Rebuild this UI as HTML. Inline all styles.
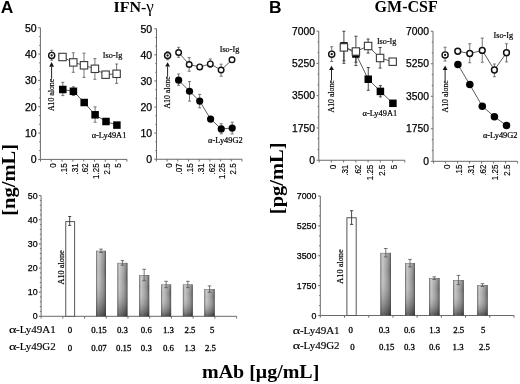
<!DOCTYPE html><html><head><meta charset="utf-8"><style>html,body{margin:0;padding:0;background:#fff;}svg{display:block;filter:blur(0.3px);}</style></head><body>
<svg width="520" height="384" viewBox="0 0 520 384">
<defs><linearGradient id="gh" x1="0" y1="0" x2="1" y2="0"><stop offset="0" stop-color="#7a7a7a"/><stop offset="0.1" stop-color="#a8a8a8"/><stop offset="0.2" stop-color="#c4c4c4"/><stop offset="0.35" stop-color="#b6b6b6"/><stop offset="0.55" stop-color="#a2a2a2"/><stop offset="0.75" stop-color="#8c8c8c"/><stop offset="0.9" stop-color="#6a6a6a"/><stop offset="1" stop-color="#4a4a4a"/></linearGradient><linearGradient id="gv" x1="0" y1="0" x2="0" y2="1"><stop offset="0" stop-color="#fff" stop-opacity="0.15"/><stop offset="0.3" stop-color="#fff" stop-opacity="0"/><stop offset="1" stop-color="#000" stop-opacity="0.5"/></linearGradient></defs>
<rect width="520" height="384" fill="#fff"/>
<text x="0.8" y="13.1" font-family='"Liberation Sans", sans-serif' font-size="17.4" text-anchor="start" font-weight="bold" fill="#000">A</text>
<text x="268.9" y="13" font-family='"Liberation Sans", sans-serif' font-size="17.4" text-anchor="start" font-weight="bold" fill="#000">B</text>
<text x="0" y="0" font-family='"Liberation Serif", serif' font-size="16" text-anchor="start" font-weight="bold" fill="#000" transform="translate(113.5,11.8) rotate(0) scale(1,0.94)">IFN-<tspan font-weight="normal" font-size="17">&#947;</tspan></text>
<text x="374.6" y="11.6" font-family='"Liberation Serif", serif' font-size="16" text-anchor="start" font-weight="bold" fill="#000">GM-CSF</text>
<line x1="40.4" y1="27.75" x2="40.4" y2="159.4" stroke="#6a6a6a" stroke-width="1"/>
<line x1="38.2" y1="27.75" x2="40.4" y2="27.75" stroke="#6a6a6a" stroke-width="1"/>
<line x1="39.2" y1="36.53" x2="40.4" y2="36.53" stroke="#6a6a6a" stroke-width="1"/>
<line x1="39.2" y1="45.3" x2="40.4" y2="45.3" stroke="#6a6a6a" stroke-width="1"/>
<line x1="38.2" y1="54.08" x2="40.4" y2="54.08" stroke="#6a6a6a" stroke-width="1"/>
<line x1="39.2" y1="62.86" x2="40.4" y2="62.86" stroke="#6a6a6a" stroke-width="1"/>
<line x1="39.2" y1="71.63" x2="40.4" y2="71.63" stroke="#6a6a6a" stroke-width="1"/>
<line x1="38.2" y1="80.41" x2="40.4" y2="80.41" stroke="#6a6a6a" stroke-width="1"/>
<line x1="39.2" y1="89.19" x2="40.4" y2="89.19" stroke="#6a6a6a" stroke-width="1"/>
<line x1="39.2" y1="97.96" x2="40.4" y2="97.96" stroke="#6a6a6a" stroke-width="1"/>
<line x1="38.2" y1="106.74" x2="40.4" y2="106.74" stroke="#6a6a6a" stroke-width="1"/>
<line x1="39.2" y1="115.52" x2="40.4" y2="115.52" stroke="#6a6a6a" stroke-width="1"/>
<line x1="39.2" y1="124.29" x2="40.4" y2="124.29" stroke="#6a6a6a" stroke-width="1"/>
<line x1="38.2" y1="133.07" x2="40.4" y2="133.07" stroke="#6a6a6a" stroke-width="1"/>
<line x1="39.2" y1="141.85" x2="40.4" y2="141.85" stroke="#6a6a6a" stroke-width="1"/>
<line x1="39.2" y1="150.62" x2="40.4" y2="150.62" stroke="#6a6a6a" stroke-width="1"/>
<line x1="38.2" y1="159.4" x2="40.4" y2="159.4" stroke="#6a6a6a" stroke-width="1"/>
<text x="36.6" y="31.51" font-family='"Liberation Sans", sans-serif' font-size="10.5" text-anchor="end" font-weight="normal" fill="#000" stroke="#000" stroke-width="0.25">50</text>
<text x="36.6" y="57.84" font-family='"Liberation Sans", sans-serif' font-size="10.5" text-anchor="end" font-weight="normal" fill="#000" stroke="#000" stroke-width="0.25">40</text>
<text x="36.6" y="84.17" font-family='"Liberation Sans", sans-serif' font-size="10.5" text-anchor="end" font-weight="normal" fill="#000" stroke="#000" stroke-width="0.25">30</text>
<text x="36.6" y="110.5" font-family='"Liberation Sans", sans-serif' font-size="10.5" text-anchor="end" font-weight="normal" fill="#000" stroke="#000" stroke-width="0.25">20</text>
<text x="36.6" y="136.83" font-family='"Liberation Sans", sans-serif' font-size="10.5" text-anchor="end" font-weight="normal" fill="#000" stroke="#000" stroke-width="0.25">10</text>
<text x="36.6" y="163.16" font-family='"Liberation Sans", sans-serif' font-size="10.5" text-anchor="end" font-weight="normal" fill="#000" stroke="#000" stroke-width="0.25">0</text>
<line x1="40.4" y1="159.4" x2="127" y2="159.4" stroke="#6a6a6a" stroke-width="1"/>
<line x1="40.5" y1="159.4" x2="40.5" y2="161.6" stroke="#6a6a6a" stroke-width="1"/>
<line x1="51.3" y1="159.4" x2="51.3" y2="161.6" stroke="#6a6a6a" stroke-width="1"/>
<line x1="62.1" y1="159.4" x2="62.1" y2="161.6" stroke="#6a6a6a" stroke-width="1"/>
<line x1="72.9" y1="159.4" x2="72.9" y2="161.6" stroke="#6a6a6a" stroke-width="1"/>
<line x1="83.7" y1="159.4" x2="83.7" y2="161.6" stroke="#6a6a6a" stroke-width="1"/>
<line x1="94.5" y1="159.4" x2="94.5" y2="161.6" stroke="#6a6a6a" stroke-width="1"/>
<line x1="105.3" y1="159.4" x2="105.3" y2="161.6" stroke="#6a6a6a" stroke-width="1"/>
<line x1="116.1" y1="159.4" x2="116.1" y2="161.6" stroke="#6a6a6a" stroke-width="1"/>
<line x1="126.9" y1="159.4" x2="126.9" y2="161.6" stroke="#6a6a6a" stroke-width="1"/>
<text x="0" y="0" font-family='"Liberation Sans", sans-serif' font-size="8.9" text-anchor="end" font-weight="normal" fill="#000" transform="translate(55.99,163.4) rotate(-90) scale(0.9,1)" stroke="#000" stroke-width="0.15">0</text>
<text x="0" y="0" font-family='"Liberation Sans", sans-serif' font-size="8.9" text-anchor="end" font-weight="normal" fill="#000" transform="translate(66.79,163.4) rotate(-90) scale(0.9,1)" stroke="#000" stroke-width="0.15">.15</text>
<text x="0" y="0" font-family='"Liberation Sans", sans-serif' font-size="8.9" text-anchor="end" font-weight="normal" fill="#000" transform="translate(77.59,163.4) rotate(-90) scale(0.9,1)" stroke="#000" stroke-width="0.15">.31</text>
<text x="0" y="0" font-family='"Liberation Sans", sans-serif' font-size="8.9" text-anchor="end" font-weight="normal" fill="#000" transform="translate(88.39,163.4) rotate(-90) scale(0.9,1)" stroke="#000" stroke-width="0.15">.62</text>
<text x="0" y="0" font-family='"Liberation Sans", sans-serif' font-size="8.9" text-anchor="end" font-weight="normal" fill="#000" transform="translate(99.19,163.4) rotate(-90) scale(0.9,1)" stroke="#000" stroke-width="0.15">1.25</text>
<text x="0" y="0" font-family='"Liberation Sans", sans-serif' font-size="8.9" text-anchor="end" font-weight="normal" fill="#000" transform="translate(109.99,163.4) rotate(-90) scale(0.9,1)" stroke="#000" stroke-width="0.15">2.5</text>
<text x="0" y="0" font-family='"Liberation Sans", sans-serif' font-size="8.9" text-anchor="end" font-weight="normal" fill="#000" transform="translate(120.79,163.4) rotate(-90) scale(0.9,1)" stroke="#000" stroke-width="0.15">5</text>
<polygon points="51.6,62.1 49.2,66.8 54,66.8" fill="#111"/>
<line x1="51.6" y1="66.8" x2="51.6" y2="78.8" stroke="#222" stroke-width="1"/>
<text x="0" y="0" font-family='"Liberation Serif", serif' font-size="7.8" text-anchor="end" font-weight="normal" fill="#000" transform="translate(54.17,78.8) rotate(-90)" stroke="#000" stroke-width="0.18">A10 alone</text>
<line x1="51.7" y1="50.3" x2="51.7" y2="60.2" stroke="#666" stroke-width="0.9"/>
<line x1="50.2" y1="50.3" x2="53.2" y2="50.3" stroke="#666" stroke-width="0.9"/>
<line x1="50.2" y1="60.2" x2="53.2" y2="60.2" stroke="#666" stroke-width="0.9"/>
<circle cx="51.7" cy="55.45" r="3.05" fill="#fff" stroke="#111" stroke-width="1.4"/>
<circle cx="51.7" cy="55.45" r="1.15" fill="#111"/>
<polyline points="62.8,89.5 73.4,91.3 84.2,102.5 95.1,114.8 106,121.5 116.9,125.1" fill="none" stroke="#333" stroke-width="0.8"/>
<polyline points="62.5,57 73.3,62.4 84,65.3 94.9,68.8 105.6,74.7 116.6,73.8" fill="none" stroke="#333" stroke-width="0.8"/>
<line x1="73.3" y1="52.8" x2="73.3" y2="72.3" stroke="#666" stroke-width="0.9"/>
<line x1="71.8" y1="52.8" x2="74.8" y2="52.8" stroke="#666" stroke-width="0.9"/>
<line x1="71.8" y1="72.3" x2="74.8" y2="72.3" stroke="#666" stroke-width="0.9"/>
<line x1="84" y1="53.2" x2="84" y2="77.4" stroke="#666" stroke-width="0.9"/>
<line x1="82.5" y1="53.2" x2="85.5" y2="53.2" stroke="#666" stroke-width="0.9"/>
<line x1="82.5" y1="77.4" x2="85.5" y2="77.4" stroke="#666" stroke-width="0.9"/>
<line x1="94.9" y1="58.6" x2="94.9" y2="79.3" stroke="#666" stroke-width="0.9"/>
<line x1="93.4" y1="58.6" x2="96.4" y2="58.6" stroke="#666" stroke-width="0.9"/>
<line x1="93.4" y1="79.3" x2="96.4" y2="79.3" stroke="#666" stroke-width="0.9"/>
<line x1="116.6" y1="64" x2="116.6" y2="83.3" stroke="#666" stroke-width="0.9"/>
<line x1="115.1" y1="64" x2="118.1" y2="64" stroke="#666" stroke-width="0.9"/>
<line x1="115.1" y1="83.3" x2="118.1" y2="83.3" stroke="#666" stroke-width="0.9"/>
<line x1="62.8" y1="82.3" x2="62.8" y2="95.6" stroke="#666" stroke-width="0.9"/>
<line x1="61.3" y1="82.3" x2="64.3" y2="82.3" stroke="#666" stroke-width="0.9"/>
<line x1="61.3" y1="95.6" x2="64.3" y2="95.6" stroke="#666" stroke-width="0.9"/>
<line x1="73.4" y1="86.8" x2="73.4" y2="95.5" stroke="#666" stroke-width="0.9"/>
<line x1="71.9" y1="86.8" x2="74.9" y2="86.8" stroke="#666" stroke-width="0.9"/>
<line x1="71.9" y1="95.5" x2="74.9" y2="95.5" stroke="#666" stroke-width="0.9"/>
<line x1="95.1" y1="106.9" x2="95.1" y2="122.2" stroke="#666" stroke-width="0.9"/>
<line x1="93.6" y1="106.9" x2="96.6" y2="106.9" stroke="#666" stroke-width="0.9"/>
<line x1="93.6" y1="122.2" x2="96.6" y2="122.2" stroke="#666" stroke-width="0.9"/>
<rect x="59.05" y="85.75" width="7.5" height="7.5" fill="#000"/>
<rect x="69.65" y="87.55" width="7.5" height="7.5" fill="#000"/>
<rect x="80.45" y="98.75" width="7.5" height="7.5" fill="#000"/>
<rect x="91.35" y="111.05" width="7.5" height="7.5" fill="#000"/>
<rect x="102.25" y="117.75" width="7.5" height="7.5" fill="#000"/>
<rect x="113.15" y="121.35" width="7.5" height="7.5" fill="#000"/>
<rect x="58.8" y="53.3" width="7.4" height="7.4" fill="#fff" stroke="#3a3a3a" stroke-width="1.1"/>
<rect x="69.6" y="58.7" width="7.4" height="7.4" fill="#fff" stroke="#3a3a3a" stroke-width="1.1"/>
<rect x="80.3" y="61.6" width="7.4" height="7.4" fill="#fff" stroke="#3a3a3a" stroke-width="1.1"/>
<rect x="91.2" y="65.1" width="7.4" height="7.4" fill="#fff" stroke="#3a3a3a" stroke-width="1.1"/>
<rect x="101.9" y="71" width="7.4" height="7.4" fill="#fff" stroke="#3a3a3a" stroke-width="1.1"/>
<rect x="112.9" y="70.1" width="7.4" height="7.4" fill="#fff" stroke="#3a3a3a" stroke-width="1.1"/>
<text x="102.8" y="58.4" font-family='"Liberation Serif", serif' font-size="8.2" text-anchor="start" font-weight="normal" fill="#000" stroke="#000" stroke-width="0.2">Iso-Ig</text>
<text x="91.7" y="137.6" font-family='"Liberation Serif", serif' font-size="8.4" text-anchor="start" font-weight="normal" fill="#000" stroke="#000" stroke-width="0.2">&#945;-Ly49A1</text>
<line x1="156.5" y1="28.75" x2="156.5" y2="159.25" stroke="#6a6a6a" stroke-width="1"/>
<line x1="154.3" y1="28.75" x2="156.5" y2="28.75" stroke="#6a6a6a" stroke-width="1"/>
<line x1="155.3" y1="37.45" x2="156.5" y2="37.45" stroke="#6a6a6a" stroke-width="1"/>
<line x1="155.3" y1="46.15" x2="156.5" y2="46.15" stroke="#6a6a6a" stroke-width="1"/>
<line x1="154.3" y1="54.85" x2="156.5" y2="54.85" stroke="#6a6a6a" stroke-width="1"/>
<line x1="155.3" y1="63.55" x2="156.5" y2="63.55" stroke="#6a6a6a" stroke-width="1"/>
<line x1="155.3" y1="72.25" x2="156.5" y2="72.25" stroke="#6a6a6a" stroke-width="1"/>
<line x1="154.3" y1="80.95" x2="156.5" y2="80.95" stroke="#6a6a6a" stroke-width="1"/>
<line x1="155.3" y1="89.65" x2="156.5" y2="89.65" stroke="#6a6a6a" stroke-width="1"/>
<line x1="155.3" y1="98.35" x2="156.5" y2="98.35" stroke="#6a6a6a" stroke-width="1"/>
<line x1="154.3" y1="107.05" x2="156.5" y2="107.05" stroke="#6a6a6a" stroke-width="1"/>
<line x1="155.3" y1="115.75" x2="156.5" y2="115.75" stroke="#6a6a6a" stroke-width="1"/>
<line x1="155.3" y1="124.45" x2="156.5" y2="124.45" stroke="#6a6a6a" stroke-width="1"/>
<line x1="154.3" y1="133.15" x2="156.5" y2="133.15" stroke="#6a6a6a" stroke-width="1"/>
<line x1="155.3" y1="141.85" x2="156.5" y2="141.85" stroke="#6a6a6a" stroke-width="1"/>
<line x1="155.3" y1="150.55" x2="156.5" y2="150.55" stroke="#6a6a6a" stroke-width="1"/>
<line x1="154.3" y1="159.25" x2="156.5" y2="159.25" stroke="#6a6a6a" stroke-width="1"/>
<text x="152.2" y="32.51" font-family='"Liberation Sans", sans-serif' font-size="10.5" text-anchor="end" font-weight="normal" fill="#000" stroke="#000" stroke-width="0.25">50</text>
<text x="152.2" y="58.61" font-family='"Liberation Sans", sans-serif' font-size="10.5" text-anchor="end" font-weight="normal" fill="#000" stroke="#000" stroke-width="0.25">40</text>
<text x="152.2" y="84.71" font-family='"Liberation Sans", sans-serif' font-size="10.5" text-anchor="end" font-weight="normal" fill="#000" stroke="#000" stroke-width="0.25">30</text>
<text x="152.2" y="110.81" font-family='"Liberation Sans", sans-serif' font-size="10.5" text-anchor="end" font-weight="normal" fill="#000" stroke="#000" stroke-width="0.25">20</text>
<text x="152.2" y="136.91" font-family='"Liberation Sans", sans-serif' font-size="10.5" text-anchor="end" font-weight="normal" fill="#000" stroke="#000" stroke-width="0.25">10</text>
<text x="152.2" y="163.01" font-family='"Liberation Sans", sans-serif' font-size="10.5" text-anchor="end" font-weight="normal" fill="#000" stroke="#000" stroke-width="0.25">0</text>
<line x1="156.5" y1="159.25" x2="242" y2="159.25" stroke="#6a6a6a" stroke-width="1"/>
<line x1="156.4" y1="159.25" x2="156.4" y2="161.45" stroke="#6a6a6a" stroke-width="1"/>
<line x1="167.1" y1="159.25" x2="167.1" y2="161.45" stroke="#6a6a6a" stroke-width="1"/>
<line x1="177.8" y1="159.25" x2="177.8" y2="161.45" stroke="#6a6a6a" stroke-width="1"/>
<line x1="188.5" y1="159.25" x2="188.5" y2="161.45" stroke="#6a6a6a" stroke-width="1"/>
<line x1="199.2" y1="159.25" x2="199.2" y2="161.45" stroke="#6a6a6a" stroke-width="1"/>
<line x1="209.9" y1="159.25" x2="209.9" y2="161.45" stroke="#6a6a6a" stroke-width="1"/>
<line x1="220.6" y1="159.25" x2="220.6" y2="161.45" stroke="#6a6a6a" stroke-width="1"/>
<line x1="231.3" y1="159.25" x2="231.3" y2="161.45" stroke="#6a6a6a" stroke-width="1"/>
<line x1="242" y1="159.25" x2="242" y2="161.45" stroke="#6a6a6a" stroke-width="1"/>
<text x="0" y="0" font-family='"Liberation Sans", sans-serif' font-size="8.9" text-anchor="end" font-weight="normal" fill="#000" transform="translate(171.79,163.4) rotate(-90) scale(0.9,1)" stroke="#000" stroke-width="0.15">0</text>
<text x="0" y="0" font-family='"Liberation Sans", sans-serif' font-size="8.9" text-anchor="end" font-weight="normal" fill="#000" transform="translate(182.49,163.4) rotate(-90) scale(0.9,1)" stroke="#000" stroke-width="0.15">.07</text>
<text x="0" y="0" font-family='"Liberation Sans", sans-serif' font-size="8.9" text-anchor="end" font-weight="normal" fill="#000" transform="translate(193.19,163.4) rotate(-90) scale(0.9,1)" stroke="#000" stroke-width="0.15">.15</text>
<text x="0" y="0" font-family='"Liberation Sans", sans-serif' font-size="8.9" text-anchor="end" font-weight="normal" fill="#000" transform="translate(203.89,163.4) rotate(-90) scale(0.9,1)" stroke="#000" stroke-width="0.15">.31</text>
<text x="0" y="0" font-family='"Liberation Sans", sans-serif' font-size="8.9" text-anchor="end" font-weight="normal" fill="#000" transform="translate(214.59,163.4) rotate(-90) scale(0.9,1)" stroke="#000" stroke-width="0.15">.62</text>
<text x="0" y="0" font-family='"Liberation Sans", sans-serif' font-size="8.9" text-anchor="end" font-weight="normal" fill="#000" transform="translate(225.29,163.4) rotate(-90) scale(0.9,1)" stroke="#000" stroke-width="0.15">1.25</text>
<text x="0" y="0" font-family='"Liberation Sans", sans-serif' font-size="8.9" text-anchor="end" font-weight="normal" fill="#000" transform="translate(235.99,163.4) rotate(-90) scale(0.9,1)" stroke="#000" stroke-width="0.15">2.5</text>
<polygon points="167.6,62.2 165.2,66.5 170,66.5" fill="#111"/>
<line x1="167.6" y1="66.5" x2="167.6" y2="76.25" stroke="#222" stroke-width="1"/>
<text x="0" y="0" font-family='"Liberation Serif", serif' font-size="7.8" text-anchor="end" font-weight="normal" fill="#000" transform="translate(170.17,76.25) rotate(-90)" stroke="#000" stroke-width="0.18">A10 alone</text>
<line x1="167.6" y1="51.7" x2="167.6" y2="59.8" stroke="#666" stroke-width="0.9"/>
<line x1="166.1" y1="51.7" x2="169.1" y2="51.7" stroke="#666" stroke-width="0.9"/>
<line x1="166.1" y1="59.8" x2="169.1" y2="59.8" stroke="#666" stroke-width="0.9"/>
<circle cx="167.6" cy="55.5" r="3.05" fill="#fff" stroke="#111" stroke-width="1.4"/>
<circle cx="167.6" cy="55.5" r="1.15" fill="#111"/>
<polyline points="178.6,80.2 189.5,91.25 199.7,101.1 210.6,119.1 221.25,128.9 232.2,128.1" fill="none" stroke="#333" stroke-width="0.8"/>
<polyline points="178.6,52.5 189.2,64.5 199.7,66.9 210.3,63.9 221.1,70 232,59.8" fill="none" stroke="#333" stroke-width="0.8"/>
<line x1="178.6" y1="47.3" x2="178.6" y2="57.3" stroke="#666" stroke-width="0.9"/>
<line x1="177.1" y1="47.3" x2="180.1" y2="47.3" stroke="#666" stroke-width="0.9"/>
<line x1="177.1" y1="57.3" x2="180.1" y2="57.3" stroke="#666" stroke-width="0.9"/>
<line x1="189.2" y1="57.6" x2="189.2" y2="71.25" stroke="#666" stroke-width="0.9"/>
<line x1="187.7" y1="57.6" x2="190.7" y2="57.6" stroke="#666" stroke-width="0.9"/>
<line x1="187.7" y1="71.25" x2="190.7" y2="71.25" stroke="#666" stroke-width="0.9"/>
<line x1="210.3" y1="59" x2="210.3" y2="67.3" stroke="#666" stroke-width="0.9"/>
<line x1="208.8" y1="59" x2="211.8" y2="59" stroke="#666" stroke-width="0.9"/>
<line x1="208.8" y1="67.3" x2="211.8" y2="67.3" stroke="#666" stroke-width="0.9"/>
<line x1="221.1" y1="64.2" x2="221.1" y2="76.25" stroke="#666" stroke-width="0.9"/>
<line x1="219.6" y1="64.2" x2="222.6" y2="64.2" stroke="#666" stroke-width="0.9"/>
<line x1="219.6" y1="76.25" x2="222.6" y2="76.25" stroke="#666" stroke-width="0.9"/>
<line x1="178.6" y1="74" x2="178.6" y2="85.3" stroke="#666" stroke-width="0.9"/>
<line x1="177.1" y1="74" x2="180.1" y2="74" stroke="#666" stroke-width="0.9"/>
<line x1="177.1" y1="85.3" x2="180.1" y2="85.3" stroke="#666" stroke-width="0.9"/>
<line x1="189.5" y1="81.6" x2="189.5" y2="101.1" stroke="#666" stroke-width="0.9"/>
<line x1="188" y1="81.6" x2="191" y2="81.6" stroke="#666" stroke-width="0.9"/>
<line x1="188" y1="101.1" x2="191" y2="101.1" stroke="#666" stroke-width="0.9"/>
<line x1="199.7" y1="94.4" x2="199.7" y2="107.8" stroke="#666" stroke-width="0.9"/>
<line x1="198.2" y1="94.4" x2="201.2" y2="94.4" stroke="#666" stroke-width="0.9"/>
<line x1="198.2" y1="107.8" x2="201.2" y2="107.8" stroke="#666" stroke-width="0.9"/>
<line x1="221.25" y1="123.75" x2="221.25" y2="133.9" stroke="#666" stroke-width="0.9"/>
<line x1="219.75" y1="123.75" x2="222.75" y2="123.75" stroke="#666" stroke-width="0.9"/>
<line x1="219.75" y1="133.9" x2="222.75" y2="133.9" stroke="#666" stroke-width="0.9"/>
<line x1="232.2" y1="122.2" x2="232.2" y2="133.9" stroke="#666" stroke-width="0.9"/>
<line x1="230.7" y1="122.2" x2="233.7" y2="122.2" stroke="#666" stroke-width="0.9"/>
<line x1="230.7" y1="133.9" x2="233.7" y2="133.9" stroke="#666" stroke-width="0.9"/>
<circle cx="178.6" cy="80.2" r="3.6" fill="#000"/>
<circle cx="189.5" cy="91.25" r="3.6" fill="#000"/>
<circle cx="199.7" cy="101.1" r="3.6" fill="#000"/>
<circle cx="210.6" cy="119.1" r="3.6" fill="#000"/>
<circle cx="221.25" cy="128.9" r="3.6" fill="#000"/>
<circle cx="232.2" cy="128.1" r="3.6" fill="#000"/>
<circle cx="178.6" cy="52.5" r="2.8" fill="#fff" stroke="#111" stroke-width="1.4"/>
<circle cx="189.2" cy="64.5" r="2.8" fill="#fff" stroke="#111" stroke-width="1.4"/>
<circle cx="199.7" cy="66.9" r="2.8" fill="#fff" stroke="#111" stroke-width="1.4"/>
<circle cx="210.3" cy="63.9" r="2.8" fill="#fff" stroke="#111" stroke-width="1.4"/>
<circle cx="221.1" cy="70" r="2.8" fill="#fff" stroke="#111" stroke-width="1.4"/>
<circle cx="232" cy="59.8" r="2.8" fill="#fff" stroke="#111" stroke-width="1.4"/>
<text x="219.7" y="51.7" font-family='"Liberation Serif", serif' font-size="8.2" text-anchor="start" font-weight="normal" fill="#000" stroke="#000" stroke-width="0.2">Iso-Ig</text>
<text x="208.1" y="142.7" font-family='"Liberation Serif", serif' font-size="8.4" text-anchor="start" font-weight="normal" fill="#000" stroke="#000" stroke-width="0.2">&#945;-Ly49G2</text>
<line x1="318.75" y1="31.1" x2="318.75" y2="160.25" stroke="#6a6a6a" stroke-width="1"/>
<line x1="316.55" y1="31.1" x2="318.75" y2="31.1" stroke="#6a6a6a" stroke-width="1"/>
<line x1="317.55" y1="41.86" x2="318.75" y2="41.86" stroke="#6a6a6a" stroke-width="1"/>
<line x1="317.55" y1="52.62" x2="318.75" y2="52.62" stroke="#6a6a6a" stroke-width="1"/>
<line x1="316.55" y1="63.39" x2="318.75" y2="63.39" stroke="#6a6a6a" stroke-width="1"/>
<line x1="317.55" y1="74.15" x2="318.75" y2="74.15" stroke="#6a6a6a" stroke-width="1"/>
<line x1="317.55" y1="84.91" x2="318.75" y2="84.91" stroke="#6a6a6a" stroke-width="1"/>
<line x1="316.55" y1="95.68" x2="318.75" y2="95.68" stroke="#6a6a6a" stroke-width="1"/>
<line x1="317.55" y1="106.44" x2="318.75" y2="106.44" stroke="#6a6a6a" stroke-width="1"/>
<line x1="317.55" y1="117.2" x2="318.75" y2="117.2" stroke="#6a6a6a" stroke-width="1"/>
<line x1="316.55" y1="127.96" x2="318.75" y2="127.96" stroke="#6a6a6a" stroke-width="1"/>
<line x1="317.55" y1="138.72" x2="318.75" y2="138.72" stroke="#6a6a6a" stroke-width="1"/>
<line x1="317.55" y1="149.49" x2="318.75" y2="149.49" stroke="#6a6a6a" stroke-width="1"/>
<line x1="316.55" y1="160.25" x2="318.75" y2="160.25" stroke="#6a6a6a" stroke-width="1"/>
<text x="315" y="34.79" font-family='"Liberation Sans", sans-serif' font-size="10.3" text-anchor="end" font-weight="normal" fill="#000" stroke="#000" stroke-width="0.25">7000</text>
<text x="315" y="67.07" font-family='"Liberation Sans", sans-serif' font-size="10.3" text-anchor="end" font-weight="normal" fill="#000" stroke="#000" stroke-width="0.25">5250</text>
<text x="315" y="99.36" font-family='"Liberation Sans", sans-serif' font-size="10.3" text-anchor="end" font-weight="normal" fill="#000" stroke="#000" stroke-width="0.25">3500</text>
<text x="315" y="131.65" font-family='"Liberation Sans", sans-serif' font-size="10.3" text-anchor="end" font-weight="normal" fill="#000" stroke="#000" stroke-width="0.25">1750</text>
<text x="315" y="163.94" font-family='"Liberation Sans", sans-serif' font-size="10.3" text-anchor="end" font-weight="normal" fill="#000" stroke="#000" stroke-width="0.25">0</text>
<line x1="318.75" y1="160.25" x2="404.8" y2="160.25" stroke="#6a6a6a" stroke-width="1"/>
<line x1="319.1" y1="160.25" x2="319.1" y2="162.45" stroke="#6a6a6a" stroke-width="1"/>
<line x1="331.34" y1="160.25" x2="331.34" y2="162.45" stroke="#6a6a6a" stroke-width="1"/>
<line x1="343.58" y1="160.25" x2="343.58" y2="162.45" stroke="#6a6a6a" stroke-width="1"/>
<line x1="355.82" y1="160.25" x2="355.82" y2="162.45" stroke="#6a6a6a" stroke-width="1"/>
<line x1="368.06" y1="160.25" x2="368.06" y2="162.45" stroke="#6a6a6a" stroke-width="1"/>
<line x1="380.3" y1="160.25" x2="380.3" y2="162.45" stroke="#6a6a6a" stroke-width="1"/>
<line x1="392.54" y1="160.25" x2="392.54" y2="162.45" stroke="#6a6a6a" stroke-width="1"/>
<line x1="404.78" y1="160.25" x2="404.78" y2="162.45" stroke="#6a6a6a" stroke-width="1"/>
<text x="0" y="0" font-family='"Liberation Sans", sans-serif' font-size="8.9" text-anchor="end" font-weight="normal" fill="#000" transform="translate(336.03,164.7) rotate(-90) scale(0.9,1)" stroke="#000" stroke-width="0.15">0</text>
<text x="0" y="0" font-family='"Liberation Sans", sans-serif' font-size="8.9" text-anchor="end" font-weight="normal" fill="#000" transform="translate(348.27,164.7) rotate(-90) scale(0.9,1)" stroke="#000" stroke-width="0.15">.31</text>
<text x="0" y="0" font-family='"Liberation Sans", sans-serif' font-size="8.9" text-anchor="end" font-weight="normal" fill="#000" transform="translate(360.51,164.7) rotate(-90) scale(0.9,1)" stroke="#000" stroke-width="0.15">.62</text>
<text x="0" y="0" font-family='"Liberation Sans", sans-serif' font-size="8.9" text-anchor="end" font-weight="normal" fill="#000" transform="translate(372.75,164.7) rotate(-90) scale(0.9,1)" stroke="#000" stroke-width="0.15">1.25</text>
<text x="0" y="0" font-family='"Liberation Sans", sans-serif' font-size="8.9" text-anchor="end" font-weight="normal" fill="#000" transform="translate(384.99,164.7) rotate(-90) scale(0.9,1)" stroke="#000" stroke-width="0.15">2.5</text>
<text x="0" y="0" font-family='"Liberation Sans", sans-serif' font-size="8.9" text-anchor="end" font-weight="normal" fill="#000" transform="translate(397.23,164.7) rotate(-90) scale(0.9,1)" stroke="#000" stroke-width="0.15">5</text>
<polygon points="331.5,65.8 329.1,70 333.9,70" fill="#111"/>
<line x1="331.5" y1="70" x2="331.5" y2="80.2" stroke="#222" stroke-width="1"/>
<text x="0" y="0" font-family='"Liberation Serif", serif' font-size="7.8" text-anchor="end" font-weight="normal" fill="#000" transform="translate(334.07,80.2) rotate(-90)" stroke="#000" stroke-width="0.18">A10 alone</text>
<line x1="331.7" y1="46.7" x2="331.7" y2="61.5" stroke="#666" stroke-width="0.9"/>
<line x1="330.2" y1="46.7" x2="333.2" y2="46.7" stroke="#666" stroke-width="0.9"/>
<line x1="330.2" y1="61.5" x2="333.2" y2="61.5" stroke="#666" stroke-width="0.9"/>
<circle cx="331.7" cy="54.2" r="3.05" fill="#fff" stroke="#111" stroke-width="1.4"/>
<circle cx="331.7" cy="54.2" r="1.15" fill="#111"/>
<polyline points="343.9,45.9 355.9,54 368.25,79.25 380.4,91.4 392.9,103.3" fill="none" stroke="#333" stroke-width="0.8"/>
<polyline points="343.9,47.4 355.9,51.5 368.1,46 380.1,58 392.7,61.7" fill="none" stroke="#333" stroke-width="0.8"/>
<line x1="343.9" y1="31.25" x2="343.9" y2="60.8" stroke="#333" stroke-width="0.9"/>
<line x1="342.4" y1="31.25" x2="345.4" y2="31.25" stroke="#333" stroke-width="0.9"/>
<line x1="342.4" y1="60.8" x2="345.4" y2="60.8" stroke="#333" stroke-width="0.9"/>
<line x1="355.9" y1="36.25" x2="355.9" y2="62.25" stroke="#333" stroke-width="0.9"/>
<line x1="354.4" y1="36.25" x2="357.4" y2="36.25" stroke="#333" stroke-width="0.9"/>
<line x1="354.4" y1="62.25" x2="357.4" y2="62.25" stroke="#333" stroke-width="0.9"/>
<line x1="368.1" y1="39" x2="368.1" y2="53.1" stroke="#333" stroke-width="0.9"/>
<line x1="366.6" y1="39" x2="369.6" y2="39" stroke="#333" stroke-width="0.9"/>
<line x1="366.6" y1="53.1" x2="369.6" y2="53.1" stroke="#333" stroke-width="0.9"/>
<line x1="380.1" y1="47.5" x2="380.1" y2="68.1" stroke="#333" stroke-width="0.9"/>
<line x1="378.6" y1="47.5" x2="381.6" y2="47.5" stroke="#333" stroke-width="0.9"/>
<line x1="378.6" y1="68.1" x2="381.6" y2="68.1" stroke="#333" stroke-width="0.9"/>
<line x1="343.9" y1="45" x2="343.9" y2="63.3" stroke="#333" stroke-width="0.9"/>
<line x1="342.4" y1="45" x2="345.4" y2="45" stroke="#333" stroke-width="0.9"/>
<line x1="342.4" y1="63.3" x2="345.4" y2="63.3" stroke="#333" stroke-width="0.9"/>
<line x1="355.9" y1="50" x2="355.9" y2="65.6" stroke="#333" stroke-width="0.9"/>
<line x1="354.4" y1="50" x2="357.4" y2="50" stroke="#333" stroke-width="0.9"/>
<line x1="354.4" y1="65.6" x2="357.4" y2="65.6" stroke="#333" stroke-width="0.9"/>
<line x1="368.25" y1="67.5" x2="368.25" y2="90.25" stroke="#333" stroke-width="0.9"/>
<line x1="366.75" y1="67.5" x2="369.75" y2="67.5" stroke="#333" stroke-width="0.9"/>
<line x1="366.75" y1="90.25" x2="369.75" y2="90.25" stroke="#333" stroke-width="0.9"/>
<line x1="380.4" y1="85.6" x2="380.4" y2="96.9" stroke="#333" stroke-width="0.9"/>
<line x1="378.9" y1="85.6" x2="381.9" y2="85.6" stroke="#333" stroke-width="0.9"/>
<line x1="378.9" y1="96.9" x2="381.9" y2="96.9" stroke="#333" stroke-width="0.9"/>
<rect x="340.15" y="42.15" width="7.5" height="7.5" fill="#000"/>
<rect x="352.15" y="50.25" width="7.5" height="7.5" fill="#000"/>
<rect x="364.5" y="75.5" width="7.5" height="7.5" fill="#000"/>
<rect x="376.65" y="87.65" width="7.5" height="7.5" fill="#000"/>
<rect x="389.15" y="99.55" width="7.5" height="7.5" fill="#000"/>
<rect x="340.2" y="43.7" width="7.4" height="7.4" fill="#fff" stroke="#3a3a3a" stroke-width="1.1"/>
<rect x="352.2" y="47.8" width="7.4" height="7.4" fill="#fff" stroke="#3a3a3a" stroke-width="1.1"/>
<rect x="364.4" y="42.3" width="7.4" height="7.4" fill="#fff" stroke="#3a3a3a" stroke-width="1.1"/>
<rect x="376.4" y="54.3" width="7.4" height="7.4" fill="#fff" stroke="#3a3a3a" stroke-width="1.1"/>
<rect x="389" y="58" width="7.4" height="7.4" fill="#fff" stroke="#3a3a3a" stroke-width="1.1"/>
<text x="376.9" y="44.4" font-family='"Liberation Serif", serif' font-size="8.2" text-anchor="start" font-weight="normal" fill="#000" stroke="#000" stroke-width="0.2">Iso-Ig</text>
<text x="362.5" y="116" font-family='"Liberation Serif", serif' font-size="8.4" text-anchor="start" font-weight="normal" fill="#000" stroke="#000" stroke-width="0.2">&#945;-Ly49A1</text>
<line x1="433" y1="31.25" x2="433" y2="161.3" stroke="#6a6a6a" stroke-width="1"/>
<line x1="430.8" y1="31.25" x2="433" y2="31.25" stroke="#6a6a6a" stroke-width="1"/>
<line x1="431.8" y1="42.09" x2="433" y2="42.09" stroke="#6a6a6a" stroke-width="1"/>
<line x1="431.8" y1="52.92" x2="433" y2="52.92" stroke="#6a6a6a" stroke-width="1"/>
<line x1="430.8" y1="63.76" x2="433" y2="63.76" stroke="#6a6a6a" stroke-width="1"/>
<line x1="431.8" y1="74.6" x2="433" y2="74.6" stroke="#6a6a6a" stroke-width="1"/>
<line x1="431.8" y1="85.44" x2="433" y2="85.44" stroke="#6a6a6a" stroke-width="1"/>
<line x1="430.8" y1="96.28" x2="433" y2="96.28" stroke="#6a6a6a" stroke-width="1"/>
<line x1="431.8" y1="107.11" x2="433" y2="107.11" stroke="#6a6a6a" stroke-width="1"/>
<line x1="431.8" y1="117.95" x2="433" y2="117.95" stroke="#6a6a6a" stroke-width="1"/>
<line x1="430.8" y1="128.79" x2="433" y2="128.79" stroke="#6a6a6a" stroke-width="1"/>
<line x1="431.8" y1="139.63" x2="433" y2="139.63" stroke="#6a6a6a" stroke-width="1"/>
<line x1="431.8" y1="150.46" x2="433" y2="150.46" stroke="#6a6a6a" stroke-width="1"/>
<line x1="430.8" y1="161.3" x2="433" y2="161.3" stroke="#6a6a6a" stroke-width="1"/>
<text x="429" y="34.94" font-family='"Liberation Sans", sans-serif' font-size="10.3" text-anchor="end" font-weight="normal" fill="#000" stroke="#000" stroke-width="0.25">7000</text>
<text x="429" y="67.45" font-family='"Liberation Sans", sans-serif' font-size="10.3" text-anchor="end" font-weight="normal" fill="#000" stroke="#000" stroke-width="0.25">5250</text>
<text x="429" y="99.96" font-family='"Liberation Sans", sans-serif' font-size="10.3" text-anchor="end" font-weight="normal" fill="#000" stroke="#000" stroke-width="0.25">3500</text>
<text x="429" y="132.47" font-family='"Liberation Sans", sans-serif' font-size="10.3" text-anchor="end" font-weight="normal" fill="#000" stroke="#000" stroke-width="0.25">1750</text>
<text x="429" y="164.99" font-family='"Liberation Sans", sans-serif' font-size="10.3" text-anchor="end" font-weight="normal" fill="#000" stroke="#000" stroke-width="0.25">0</text>
<line x1="433" y1="161.3" x2="517.4" y2="161.3" stroke="#6a6a6a" stroke-width="1"/>
<line x1="433.6" y1="161.3" x2="433.6" y2="163.5" stroke="#6a6a6a" stroke-width="1"/>
<line x1="445.6" y1="161.3" x2="445.6" y2="163.5" stroke="#6a6a6a" stroke-width="1"/>
<line x1="457.6" y1="161.3" x2="457.6" y2="163.5" stroke="#6a6a6a" stroke-width="1"/>
<line x1="469.6" y1="161.3" x2="469.6" y2="163.5" stroke="#6a6a6a" stroke-width="1"/>
<line x1="481.6" y1="161.3" x2="481.6" y2="163.5" stroke="#6a6a6a" stroke-width="1"/>
<line x1="493.6" y1="161.3" x2="493.6" y2="163.5" stroke="#6a6a6a" stroke-width="1"/>
<line x1="505.6" y1="161.3" x2="505.6" y2="163.5" stroke="#6a6a6a" stroke-width="1"/>
<line x1="517.6" y1="161.3" x2="517.6" y2="163.5" stroke="#6a6a6a" stroke-width="1"/>
<text x="0" y="0" font-family='"Liberation Sans", sans-serif' font-size="8.9" text-anchor="end" font-weight="normal" fill="#000" transform="translate(450.29,164.6) rotate(-90) scale(0.9,1)" stroke="#000" stroke-width="0.15">0</text>
<text x="0" y="0" font-family='"Liberation Sans", sans-serif' font-size="8.9" text-anchor="end" font-weight="normal" fill="#000" transform="translate(462.29,164.6) rotate(-90) scale(0.9,1)" stroke="#000" stroke-width="0.15">.15</text>
<text x="0" y="0" font-family='"Liberation Sans", sans-serif' font-size="8.9" text-anchor="end" font-weight="normal" fill="#000" transform="translate(474.29,164.6) rotate(-90) scale(0.9,1)" stroke="#000" stroke-width="0.15">.31</text>
<text x="0" y="0" font-family='"Liberation Sans", sans-serif' font-size="8.9" text-anchor="end" font-weight="normal" fill="#000" transform="translate(486.29,164.6) rotate(-90) scale(0.9,1)" stroke="#000" stroke-width="0.15">.62</text>
<text x="0" y="0" font-family='"Liberation Sans", sans-serif' font-size="8.9" text-anchor="end" font-weight="normal" fill="#000" transform="translate(498.29,164.6) rotate(-90) scale(0.9,1)" stroke="#000" stroke-width="0.15">1.25</text>
<text x="0" y="0" font-family='"Liberation Sans", sans-serif' font-size="8.9" text-anchor="end" font-weight="normal" fill="#000" transform="translate(510.29,164.6) rotate(-90) scale(0.9,1)" stroke="#000" stroke-width="0.15">2.5</text>
<polygon points="445.1,65.5 442.7,70 447.5,70" fill="#111"/>
<line x1="445.1" y1="70" x2="445.1" y2="80.2" stroke="#222" stroke-width="1"/>
<text x="0" y="0" font-family='"Liberation Serif", serif' font-size="7.8" text-anchor="end" font-weight="normal" fill="#000" transform="translate(447.67,80.2) rotate(-90)" stroke="#000" stroke-width="0.18">A10 alone</text>
<line x1="445.1" y1="47.25" x2="445.1" y2="61" stroke="#666" stroke-width="0.9"/>
<line x1="443.6" y1="47.25" x2="446.6" y2="47.25" stroke="#666" stroke-width="0.9"/>
<line x1="443.6" y1="61" x2="446.6" y2="61" stroke="#666" stroke-width="0.9"/>
<circle cx="445.1" cy="54.9" r="3.05" fill="#fff" stroke="#111" stroke-width="1.4"/>
<circle cx="445.1" cy="54.9" r="1.15" fill="#111"/>
<polyline points="457.9,64.6 469.8,84.6 482.3,106.25 494.4,116.7 506.5,125.5" fill="none" stroke="#333" stroke-width="0.8"/>
<polyline points="457.75,51.25 469.75,53.5 482.25,50.4 494.4,70 506.5,52.75" fill="none" stroke="#333" stroke-width="0.8"/>
<line x1="469.75" y1="43.75" x2="469.75" y2="62.75" stroke="#666" stroke-width="0.9"/>
<line x1="468.25" y1="43.75" x2="471.25" y2="43.75" stroke="#666" stroke-width="0.9"/>
<line x1="468.25" y1="62.75" x2="471.25" y2="62.75" stroke="#666" stroke-width="0.9"/>
<line x1="482.25" y1="38.1" x2="482.25" y2="62.25" stroke="#666" stroke-width="0.9"/>
<line x1="480.75" y1="38.1" x2="483.75" y2="38.1" stroke="#666" stroke-width="0.9"/>
<line x1="480.75" y1="62.25" x2="483.75" y2="62.25" stroke="#666" stroke-width="0.9"/>
<line x1="494.4" y1="64" x2="494.4" y2="76.7" stroke="#666" stroke-width="0.9"/>
<line x1="492.9" y1="64" x2="495.9" y2="64" stroke="#666" stroke-width="0.9"/>
<line x1="492.9" y1="76.7" x2="495.9" y2="76.7" stroke="#666" stroke-width="0.9"/>
<line x1="506.5" y1="43.75" x2="506.5" y2="61.9" stroke="#666" stroke-width="0.9"/>
<line x1="505" y1="43.75" x2="508" y2="43.75" stroke="#666" stroke-width="0.9"/>
<line x1="505" y1="61.9" x2="508" y2="61.9" stroke="#666" stroke-width="0.9"/>
<circle cx="457.9" cy="64.6" r="3.75" fill="#000"/>
<circle cx="469.8" cy="84.6" r="3.75" fill="#000"/>
<circle cx="482.3" cy="106.25" r="3.75" fill="#000"/>
<circle cx="494.4" cy="116.7" r="3.75" fill="#000"/>
<circle cx="506.5" cy="125.5" r="3.75" fill="#000"/>
<circle cx="457.75" cy="51.25" r="2.9" fill="#fff" stroke="#111" stroke-width="1.5"/>
<circle cx="469.75" cy="53.5" r="2.9" fill="#fff" stroke="#111" stroke-width="1.5"/>
<circle cx="482.25" cy="50.4" r="2.9" fill="#fff" stroke="#111" stroke-width="1.5"/>
<circle cx="494.4" cy="70" r="2.9" fill="#fff" stroke="#111" stroke-width="1.5"/>
<circle cx="506.5" cy="52.75" r="2.9" fill="#fff" stroke="#111" stroke-width="1.5"/>
<text x="493.5" y="37.75" font-family='"Liberation Serif", serif' font-size="8.2" text-anchor="start" font-weight="normal" fill="#000" stroke="#000" stroke-width="0.2">Iso-Ig</text>
<text x="482.9" y="137.9" font-family='"Liberation Serif", serif' font-size="8.4" text-anchor="start" font-weight="normal" fill="#000" stroke="#000" stroke-width="0.2">&#945;-Ly49G2</text>
<text x="0" y="0" font-family='"Liberation Serif", serif' font-size="20" text-anchor="middle" font-weight="bold" fill="#000" transform="translate(15.1,179.85) rotate(-90) scale(1.025,0.9)">[ng/mL]</text>
<text x="0" y="0" font-family='"Liberation Serif", serif' font-size="20" text-anchor="middle" font-weight="bold" fill="#000" transform="translate(283.05,178.3) rotate(-90) scale(1.025,0.9)">[pg/mL]</text>
<line x1="41.1" y1="195.6" x2="41.1" y2="316.3" stroke="#6a6a6a" stroke-width="1"/>
<line x1="38.9" y1="195.6" x2="41.1" y2="195.6" stroke="#6a6a6a" stroke-width="1"/>
<line x1="39.9" y1="200.43" x2="41.1" y2="200.43" stroke="#6a6a6a" stroke-width="1"/>
<line x1="39.9" y1="205.26" x2="41.1" y2="205.26" stroke="#6a6a6a" stroke-width="1"/>
<line x1="39.9" y1="210.08" x2="41.1" y2="210.08" stroke="#6a6a6a" stroke-width="1"/>
<line x1="39.9" y1="214.91" x2="41.1" y2="214.91" stroke="#6a6a6a" stroke-width="1"/>
<line x1="38.9" y1="219.74" x2="41.1" y2="219.74" stroke="#6a6a6a" stroke-width="1"/>
<line x1="39.9" y1="224.57" x2="41.1" y2="224.57" stroke="#6a6a6a" stroke-width="1"/>
<line x1="39.9" y1="229.4" x2="41.1" y2="229.4" stroke="#6a6a6a" stroke-width="1"/>
<line x1="39.9" y1="234.22" x2="41.1" y2="234.22" stroke="#6a6a6a" stroke-width="1"/>
<line x1="39.9" y1="239.05" x2="41.1" y2="239.05" stroke="#6a6a6a" stroke-width="1"/>
<line x1="38.9" y1="243.88" x2="41.1" y2="243.88" stroke="#6a6a6a" stroke-width="1"/>
<line x1="39.9" y1="248.71" x2="41.1" y2="248.71" stroke="#6a6a6a" stroke-width="1"/>
<line x1="39.9" y1="253.54" x2="41.1" y2="253.54" stroke="#6a6a6a" stroke-width="1"/>
<line x1="39.9" y1="258.36" x2="41.1" y2="258.36" stroke="#6a6a6a" stroke-width="1"/>
<line x1="39.9" y1="263.19" x2="41.1" y2="263.19" stroke="#6a6a6a" stroke-width="1"/>
<line x1="38.9" y1="268.02" x2="41.1" y2="268.02" stroke="#6a6a6a" stroke-width="1"/>
<line x1="39.9" y1="272.85" x2="41.1" y2="272.85" stroke="#6a6a6a" stroke-width="1"/>
<line x1="39.9" y1="277.68" x2="41.1" y2="277.68" stroke="#6a6a6a" stroke-width="1"/>
<line x1="39.9" y1="282.5" x2="41.1" y2="282.5" stroke="#6a6a6a" stroke-width="1"/>
<line x1="39.9" y1="287.33" x2="41.1" y2="287.33" stroke="#6a6a6a" stroke-width="1"/>
<line x1="38.9" y1="292.16" x2="41.1" y2="292.16" stroke="#6a6a6a" stroke-width="1"/>
<line x1="39.9" y1="296.99" x2="41.1" y2="296.99" stroke="#6a6a6a" stroke-width="1"/>
<line x1="39.9" y1="301.82" x2="41.1" y2="301.82" stroke="#6a6a6a" stroke-width="1"/>
<line x1="39.9" y1="306.64" x2="41.1" y2="306.64" stroke="#6a6a6a" stroke-width="1"/>
<line x1="39.9" y1="311.47" x2="41.1" y2="311.47" stroke="#6a6a6a" stroke-width="1"/>
<line x1="38.9" y1="316.3" x2="41.1" y2="316.3" stroke="#6a6a6a" stroke-width="1"/>
<text x="37.6" y="198.75" font-family='"Liberation Sans", sans-serif' font-size="8.8" text-anchor="end" font-weight="normal" fill="#000" stroke="#000" stroke-width="0.25">50</text>
<text x="37.6" y="222.89" font-family='"Liberation Sans", sans-serif' font-size="8.8" text-anchor="end" font-weight="normal" fill="#000" stroke="#000" stroke-width="0.25">40</text>
<text x="37.6" y="247.03" font-family='"Liberation Sans", sans-serif' font-size="8.8" text-anchor="end" font-weight="normal" fill="#000" stroke="#000" stroke-width="0.25">30</text>
<text x="37.6" y="271.17" font-family='"Liberation Sans", sans-serif' font-size="8.8" text-anchor="end" font-weight="normal" fill="#000" stroke="#000" stroke-width="0.25">20</text>
<text x="37.6" y="295.31" font-family='"Liberation Sans", sans-serif' font-size="8.8" text-anchor="end" font-weight="normal" fill="#000" stroke="#000" stroke-width="0.25">10</text>
<text x="37.6" y="319.45" font-family='"Liberation Sans", sans-serif' font-size="8.8" text-anchor="end" font-weight="normal" fill="#000" stroke="#000" stroke-width="0.25">0</text>
<line x1="41.1" y1="316.3" x2="236.6" y2="316.3" stroke="#6a6a6a" stroke-width="1"/>
<line x1="41.1" y1="316.3" x2="41.1" y2="318.5" stroke="#6a6a6a" stroke-width="1"/>
<line x1="62.82" y1="316.3" x2="62.82" y2="318.5" stroke="#6a6a6a" stroke-width="1"/>
<line x1="84.54" y1="316.3" x2="84.54" y2="318.5" stroke="#6a6a6a" stroke-width="1"/>
<line x1="106.26" y1="316.3" x2="106.26" y2="318.5" stroke="#6a6a6a" stroke-width="1"/>
<line x1="127.98" y1="316.3" x2="127.98" y2="318.5" stroke="#6a6a6a" stroke-width="1"/>
<line x1="149.7" y1="316.3" x2="149.7" y2="318.5" stroke="#6a6a6a" stroke-width="1"/>
<line x1="171.42" y1="316.3" x2="171.42" y2="318.5" stroke="#6a6a6a" stroke-width="1"/>
<line x1="193.14" y1="316.3" x2="193.14" y2="318.5" stroke="#6a6a6a" stroke-width="1"/>
<line x1="214.86" y1="316.3" x2="214.86" y2="318.5" stroke="#6a6a6a" stroke-width="1"/>
<line x1="236.58" y1="316.3" x2="236.58" y2="318.5" stroke="#6a6a6a" stroke-width="1"/>
<rect x="65.75" y="221.6" width="8.85" height="94.7" fill="#fff" stroke="#555" stroke-width="1"/>
<line x1="69.7" y1="216.5" x2="69.7" y2="225.4" stroke="#333" stroke-width="0.9"/>
<line x1="68.2" y1="216.5" x2="71.2" y2="216.5" stroke="#333" stroke-width="0.9"/>
<line x1="68.2" y1="225.4" x2="71.2" y2="225.4" stroke="#333" stroke-width="0.9"/>
<rect x="96.05" y="250.8" width="9.95" height="65.5" fill="url(#gh)"/>
<rect x="96.05" y="250.8" width="9.95" height="65.5" fill="url(#gv)"/>
<rect x="96.3" y="251.05" width="9.45" height="65.25" fill="none" stroke="#555" stroke-width="0.5" stroke-opacity="0.7"/>
<line x1="101.03" y1="249.1" x2="101.03" y2="252.5" stroke="#555" stroke-width="0.8"/>
<line x1="99.23" y1="249.1" x2="102.83" y2="249.1" stroke="#555" stroke-width="0.8"/>
<line x1="99.23" y1="252.5" x2="102.83" y2="252.5" stroke="#555" stroke-width="0.8"/>
<rect x="117.5" y="262.9" width="9.9" height="53.4" fill="url(#gh)"/>
<rect x="117.5" y="262.9" width="9.9" height="53.4" fill="url(#gv)"/>
<rect x="117.75" y="263.15" width="9.4" height="53.15" fill="none" stroke="#555" stroke-width="0.5" stroke-opacity="0.7"/>
<line x1="122.45" y1="260.6" x2="122.45" y2="265.2" stroke="#555" stroke-width="0.8"/>
<line x1="120.65" y1="260.6" x2="124.25" y2="260.6" stroke="#555" stroke-width="0.8"/>
<line x1="120.65" y1="265.2" x2="124.25" y2="265.2" stroke="#555" stroke-width="0.8"/>
<rect x="139.1" y="275" width="10.1" height="41.3" fill="url(#gh)"/>
<rect x="139.1" y="275" width="10.1" height="41.3" fill="url(#gv)"/>
<rect x="139.35" y="275.25" width="9.6" height="41.05" fill="none" stroke="#555" stroke-width="0.5" stroke-opacity="0.7"/>
<line x1="144.15" y1="269.3" x2="144.15" y2="280.7" stroke="#555" stroke-width="0.8"/>
<line x1="142.35" y1="269.3" x2="145.95" y2="269.3" stroke="#555" stroke-width="0.8"/>
<line x1="142.35" y1="280.7" x2="145.95" y2="280.7" stroke="#555" stroke-width="0.8"/>
<rect x="161.1" y="284.5" width="10" height="31.8" fill="url(#gh)"/>
<rect x="161.1" y="284.5" width="10" height="31.8" fill="url(#gv)"/>
<rect x="161.35" y="284.75" width="9.5" height="31.55" fill="none" stroke="#555" stroke-width="0.5" stroke-opacity="0.7"/>
<line x1="166.1" y1="281.3" x2="166.1" y2="287.7" stroke="#555" stroke-width="0.8"/>
<line x1="164.3" y1="281.3" x2="167.9" y2="281.3" stroke="#555" stroke-width="0.8"/>
<line x1="164.3" y1="287.7" x2="167.9" y2="287.7" stroke="#555" stroke-width="0.8"/>
<rect x="182.9" y="284.5" width="9.9" height="31.8" fill="url(#gh)"/>
<rect x="182.9" y="284.5" width="9.9" height="31.8" fill="url(#gv)"/>
<rect x="183.15" y="284.75" width="9.4" height="31.55" fill="none" stroke="#555" stroke-width="0.5" stroke-opacity="0.7"/>
<line x1="187.85" y1="281.3" x2="187.85" y2="287.7" stroke="#555" stroke-width="0.8"/>
<line x1="186.05" y1="281.3" x2="189.65" y2="281.3" stroke="#555" stroke-width="0.8"/>
<line x1="186.05" y1="287.7" x2="189.65" y2="287.7" stroke="#555" stroke-width="0.8"/>
<rect x="204.4" y="289.1" width="10.3" height="27.2" fill="url(#gh)"/>
<rect x="204.4" y="289.1" width="10.3" height="27.2" fill="url(#gv)"/>
<rect x="204.65" y="289.35" width="9.8" height="26.95" fill="none" stroke="#555" stroke-width="0.5" stroke-opacity="0.7"/>
<line x1="209.55" y1="285.9" x2="209.55" y2="292.3" stroke="#555" stroke-width="0.8"/>
<line x1="207.75" y1="285.9" x2="211.35" y2="285.9" stroke="#555" stroke-width="0.8"/>
<line x1="207.75" y1="292.3" x2="211.35" y2="292.3" stroke="#555" stroke-width="0.8"/>
<text x="0" y="0" font-family='"Liberation Serif", serif' font-size="8.3" text-anchor="end" font-weight="normal" fill="#000" transform="translate(63.74,250.2) rotate(-90)" stroke="#000" stroke-width="0.2">A10 alone</text>
<line x1="320.3" y1="196" x2="320.3" y2="315.5" stroke="#6a6a6a" stroke-width="1"/>
<line x1="318.1" y1="196" x2="320.3" y2="196" stroke="#6a6a6a" stroke-width="1"/>
<line x1="319.1" y1="205.96" x2="320.3" y2="205.96" stroke="#6a6a6a" stroke-width="1"/>
<line x1="319.1" y1="215.92" x2="320.3" y2="215.92" stroke="#6a6a6a" stroke-width="1"/>
<line x1="318.1" y1="225.88" x2="320.3" y2="225.88" stroke="#6a6a6a" stroke-width="1"/>
<line x1="319.1" y1="235.83" x2="320.3" y2="235.83" stroke="#6a6a6a" stroke-width="1"/>
<line x1="319.1" y1="245.79" x2="320.3" y2="245.79" stroke="#6a6a6a" stroke-width="1"/>
<line x1="318.1" y1="255.75" x2="320.3" y2="255.75" stroke="#6a6a6a" stroke-width="1"/>
<line x1="319.1" y1="265.71" x2="320.3" y2="265.71" stroke="#6a6a6a" stroke-width="1"/>
<line x1="319.1" y1="275.67" x2="320.3" y2="275.67" stroke="#6a6a6a" stroke-width="1"/>
<line x1="318.1" y1="285.62" x2="320.3" y2="285.62" stroke="#6a6a6a" stroke-width="1"/>
<line x1="319.1" y1="295.58" x2="320.3" y2="295.58" stroke="#6a6a6a" stroke-width="1"/>
<line x1="319.1" y1="305.54" x2="320.3" y2="305.54" stroke="#6a6a6a" stroke-width="1"/>
<line x1="318.1" y1="315.5" x2="320.3" y2="315.5" stroke="#6a6a6a" stroke-width="1"/>
<text x="316.4" y="199.15" font-family='"Liberation Sans", sans-serif' font-size="8.8" text-anchor="end" font-weight="normal" fill="#000" stroke="#000" stroke-width="0.25">7000</text>
<text x="316.4" y="229.03" font-family='"Liberation Sans", sans-serif' font-size="8.8" text-anchor="end" font-weight="normal" fill="#000" stroke="#000" stroke-width="0.25">5250</text>
<text x="316.4" y="258.9" font-family='"Liberation Sans", sans-serif' font-size="8.8" text-anchor="end" font-weight="normal" fill="#000" stroke="#000" stroke-width="0.25">3500</text>
<text x="316.4" y="288.78" font-family='"Liberation Sans", sans-serif' font-size="8.8" text-anchor="end" font-weight="normal" fill="#000" stroke="#000" stroke-width="0.25">1750</text>
<text x="316.4" y="318.65" font-family='"Liberation Sans", sans-serif' font-size="8.8" text-anchor="end" font-weight="normal" fill="#000" stroke="#000" stroke-width="0.25">0</text>
<line x1="320.3" y1="315.5" x2="514" y2="315.5" stroke="#6a6a6a" stroke-width="1"/>
<line x1="320.3" y1="315.5" x2="320.3" y2="317.7" stroke="#6a6a6a" stroke-width="1"/>
<line x1="344.51" y1="315.5" x2="344.51" y2="317.7" stroke="#6a6a6a" stroke-width="1"/>
<line x1="368.72" y1="315.5" x2="368.72" y2="317.7" stroke="#6a6a6a" stroke-width="1"/>
<line x1="392.93" y1="315.5" x2="392.93" y2="317.7" stroke="#6a6a6a" stroke-width="1"/>
<line x1="417.14" y1="315.5" x2="417.14" y2="317.7" stroke="#6a6a6a" stroke-width="1"/>
<line x1="441.35" y1="315.5" x2="441.35" y2="317.7" stroke="#6a6a6a" stroke-width="1"/>
<line x1="465.56" y1="315.5" x2="465.56" y2="317.7" stroke="#6a6a6a" stroke-width="1"/>
<line x1="489.77" y1="315.5" x2="489.77" y2="317.7" stroke="#6a6a6a" stroke-width="1"/>
<line x1="513.98" y1="315.5" x2="513.98" y2="317.7" stroke="#6a6a6a" stroke-width="1"/>
<rect x="346.9" y="217.75" width="9.3" height="97.75" fill="#fff" stroke="#555" stroke-width="1"/>
<line x1="351.6" y1="210.7" x2="351.6" y2="224.4" stroke="#333" stroke-width="0.9"/>
<line x1="350" y1="210.7" x2="353.2" y2="210.7" stroke="#333" stroke-width="0.9"/>
<line x1="350" y1="224.4" x2="353.2" y2="224.4" stroke="#333" stroke-width="0.9"/>
<rect x="380.5" y="252.9" width="10.5" height="62.6" fill="url(#gh)"/>
<rect x="380.5" y="252.9" width="10.5" height="62.6" fill="url(#gv)"/>
<rect x="380.75" y="253.15" width="10" height="62.35" fill="none" stroke="#555" stroke-width="0.5" stroke-opacity="0.7"/>
<line x1="385.75" y1="248.5" x2="385.75" y2="256.9" stroke="#555" stroke-width="0.8"/>
<line x1="383.95" y1="248.5" x2="387.55" y2="248.5" stroke="#555" stroke-width="0.8"/>
<line x1="383.95" y1="256.9" x2="387.55" y2="256.9" stroke="#555" stroke-width="0.8"/>
<rect x="405" y="263.1" width="10" height="52.4" fill="url(#gh)"/>
<rect x="405" y="263.1" width="10" height="52.4" fill="url(#gv)"/>
<rect x="405.25" y="263.35" width="9.5" height="52.15" fill="none" stroke="#555" stroke-width="0.5" stroke-opacity="0.7"/>
<line x1="410" y1="259.4" x2="410" y2="266.9" stroke="#555" stroke-width="0.8"/>
<line x1="408.2" y1="259.4" x2="411.8" y2="259.4" stroke="#555" stroke-width="0.8"/>
<line x1="408.2" y1="266.9" x2="411.8" y2="266.9" stroke="#555" stroke-width="0.8"/>
<rect x="429" y="278" width="10.5" height="37.5" fill="url(#gh)"/>
<rect x="429" y="278" width="10.5" height="37.5" fill="url(#gv)"/>
<rect x="429.25" y="278.25" width="10" height="37.25" fill="none" stroke="#555" stroke-width="0.5" stroke-opacity="0.7"/>
<line x1="434.25" y1="276.8" x2="434.25" y2="279.5" stroke="#555" stroke-width="0.8"/>
<line x1="432.45" y1="276.8" x2="436.05" y2="276.8" stroke="#555" stroke-width="0.8"/>
<line x1="432.45" y1="279.5" x2="436.05" y2="279.5" stroke="#555" stroke-width="0.8"/>
<rect x="453.1" y="280" width="10.7" height="35.5" fill="url(#gh)"/>
<rect x="453.1" y="280" width="10.7" height="35.5" fill="url(#gv)"/>
<rect x="453.35" y="280.25" width="10.2" height="35.25" fill="none" stroke="#555" stroke-width="0.5" stroke-opacity="0.7"/>
<line x1="458.45" y1="275.4" x2="458.45" y2="284.6" stroke="#555" stroke-width="0.8"/>
<line x1="456.65" y1="275.4" x2="460.25" y2="275.4" stroke="#555" stroke-width="0.8"/>
<line x1="456.65" y1="284.6" x2="460.25" y2="284.6" stroke="#555" stroke-width="0.8"/>
<rect x="477.2" y="285" width="10.5" height="30.5" fill="url(#gh)"/>
<rect x="477.2" y="285" width="10.5" height="30.5" fill="url(#gv)"/>
<rect x="477.45" y="285.25" width="10" height="30.25" fill="none" stroke="#555" stroke-width="0.5" stroke-opacity="0.7"/>
<line x1="482.45" y1="283.7" x2="482.45" y2="286.5" stroke="#555" stroke-width="0.8"/>
<line x1="480.65" y1="283.7" x2="484.25" y2="283.7" stroke="#555" stroke-width="0.8"/>
<line x1="480.65" y1="286.5" x2="484.25" y2="286.5" stroke="#555" stroke-width="0.8"/>
<text x="0" y="0" font-family='"Liberation Serif", serif' font-size="8.3" text-anchor="end" font-weight="normal" fill="#000" transform="translate(342.94,249.3) rotate(-90)" stroke="#000" stroke-width="0.2">A10 alone</text>
<text x="0" y="0" font-family='"Liberation Serif", serif' font-size="11" text-anchor="start" font-weight="normal" fill="#000" transform="translate(8.9,333.3) rotate(0) scale(1.3,1)" stroke="#000" stroke-width="0.15">&#945;</text>
<text x="16.1" y="333.3" font-family='"Liberation Serif", serif' font-size="11" text-anchor="start" font-weight="normal" fill="#000" stroke="#000" stroke-width="0.15">-Ly49A1</text>
<text x="0" y="0" font-family='"Liberation Serif", serif' font-size="11" text-anchor="start" font-weight="normal" fill="#000" transform="translate(8.9,350.4) rotate(0) scale(1.3,1)" stroke="#000" stroke-width="0.15">&#945;</text>
<text x="16.1" y="350.4" font-family='"Liberation Serif", serif' font-size="11" text-anchor="start" font-weight="normal" fill="#000" stroke="#000" stroke-width="0.15">-Ly49G2</text>
<text x="0" y="0" font-family='"Liberation Serif", serif' font-size="11" text-anchor="start" font-weight="normal" fill="#000" transform="translate(292.7,333.9) rotate(0) scale(1.3,1)" stroke="#000" stroke-width="0.15">&#945;</text>
<text x="299.9" y="333.9" font-family='"Liberation Serif", serif' font-size="11" text-anchor="start" font-weight="normal" fill="#000" stroke="#000" stroke-width="0.15">-Ly49A1</text>
<text x="0" y="0" font-family='"Liberation Serif", serif' font-size="11" text-anchor="start" font-weight="normal" fill="#000" transform="translate(292.7,348.5) rotate(0) scale(1.3,1)" stroke="#000" stroke-width="0.15">&#945;</text>
<text x="299.9" y="348.5" font-family='"Liberation Serif", serif' font-size="11" text-anchor="start" font-weight="normal" fill="#000" stroke="#000" stroke-width="0.15">-Ly49G2</text>
<text x="70" y="333" font-family='"Liberation Serif", serif' font-size="8.8" text-anchor="middle" font-weight="normal" fill="#000" stroke="#000" stroke-width="0.3">0</text>
<text x="99" y="333" font-family='"Liberation Serif", serif' font-size="8.8" text-anchor="middle" font-weight="normal" fill="#000" stroke="#000" stroke-width="0.3">0.15</text>
<text x="122.4" y="333" font-family='"Liberation Serif", serif' font-size="8.8" text-anchor="middle" font-weight="normal" fill="#000" stroke="#000" stroke-width="0.3">0.3</text>
<text x="146.3" y="333" font-family='"Liberation Serif", serif' font-size="8.8" text-anchor="middle" font-weight="normal" fill="#000" stroke="#000" stroke-width="0.3">0.6</text>
<text x="168.4" y="333" font-family='"Liberation Serif", serif' font-size="8.8" text-anchor="middle" font-weight="normal" fill="#000" stroke="#000" stroke-width="0.3">1.3</text>
<text x="190" y="333" font-family='"Liberation Serif", serif' font-size="8.8" text-anchor="middle" font-weight="normal" fill="#000" stroke="#000" stroke-width="0.3">2.5</text>
<text x="212.3" y="333" font-family='"Liberation Serif", serif' font-size="8.8" text-anchor="middle" font-weight="normal" fill="#000" stroke="#000" stroke-width="0.3">5</text>
<text x="70" y="350.5" font-family='"Liberation Serif", serif' font-size="8.8" text-anchor="middle" font-weight="normal" fill="#000" stroke="#000" stroke-width="0.3">0</text>
<text x="99" y="350.5" font-family='"Liberation Serif", serif' font-size="8.8" text-anchor="middle" font-weight="normal" fill="#000" stroke="#000" stroke-width="0.3">0.07</text>
<text x="123.7" y="350.5" font-family='"Liberation Serif", serif' font-size="8.8" text-anchor="middle" font-weight="normal" fill="#000" stroke="#000" stroke-width="0.3">0.15</text>
<text x="146.3" y="350.5" font-family='"Liberation Serif", serif' font-size="8.8" text-anchor="middle" font-weight="normal" fill="#000" stroke="#000" stroke-width="0.3">0.3</text>
<text x="168.4" y="350.5" font-family='"Liberation Serif", serif' font-size="8.8" text-anchor="middle" font-weight="normal" fill="#000" stroke="#000" stroke-width="0.3">0.6</text>
<text x="190" y="350.5" font-family='"Liberation Serif", serif' font-size="8.8" text-anchor="middle" font-weight="normal" fill="#000" stroke="#000" stroke-width="0.3">1.3</text>
<text x="210.4" y="350.5" font-family='"Liberation Serif", serif' font-size="8.8" text-anchor="middle" font-weight="normal" fill="#000" stroke="#000" stroke-width="0.3">2.5</text>
<text x="350.7" y="333.4" font-family='"Liberation Serif", serif' font-size="8.8" text-anchor="middle" font-weight="normal" fill="#000" stroke="#000" stroke-width="0.3">0</text>
<text x="384.2" y="333.4" font-family='"Liberation Serif", serif' font-size="8.8" text-anchor="middle" font-weight="normal" fill="#000" stroke="#000" stroke-width="0.3">0.3</text>
<text x="409.4" y="333.4" font-family='"Liberation Serif", serif' font-size="8.8" text-anchor="middle" font-weight="normal" fill="#000" stroke="#000" stroke-width="0.3">0.6</text>
<text x="434.75" y="333.4" font-family='"Liberation Serif", serif' font-size="8.8" text-anchor="middle" font-weight="normal" fill="#000" stroke="#000" stroke-width="0.3">1.3</text>
<text x="458.75" y="333.4" font-family='"Liberation Serif", serif' font-size="8.8" text-anchor="middle" font-weight="normal" fill="#000" stroke="#000" stroke-width="0.3">2.5</text>
<text x="483.1" y="333.4" font-family='"Liberation Serif", serif' font-size="8.8" text-anchor="middle" font-weight="normal" fill="#000" stroke="#000" stroke-width="0.3">5</text>
<text x="352.5" y="349.5" font-family='"Liberation Serif", serif' font-size="8.8" text-anchor="middle" font-weight="normal" fill="#000" stroke="#000" stroke-width="0.3">0</text>
<text x="386.7" y="349.5" font-family='"Liberation Serif", serif' font-size="8.8" text-anchor="middle" font-weight="normal" fill="#000" stroke="#000" stroke-width="0.3">0.15</text>
<text x="409.4" y="349.5" font-family='"Liberation Serif", serif' font-size="8.8" text-anchor="middle" font-weight="normal" fill="#000" stroke="#000" stroke-width="0.3">0.3</text>
<text x="434.4" y="349.5" font-family='"Liberation Serif", serif' font-size="8.8" text-anchor="middle" font-weight="normal" fill="#000" stroke="#000" stroke-width="0.3">0.6</text>
<text x="458.1" y="349.5" font-family='"Liberation Serif", serif' font-size="8.8" text-anchor="middle" font-weight="normal" fill="#000" stroke="#000" stroke-width="0.3">1.3</text>
<text x="484.4" y="349.5" font-family='"Liberation Serif", serif' font-size="8.8" text-anchor="middle" font-weight="normal" fill="#000" stroke="#000" stroke-width="0.3">2.5</text>
<text x="0" y="0" font-family='"Liberation Serif", serif' font-size="20" text-anchor="start" font-weight="bold" fill="#000" transform="translate(202,378.4) rotate(0) scale(1,0.93)">mAb [&#956;g/mL]</text>
</svg></body></html>
